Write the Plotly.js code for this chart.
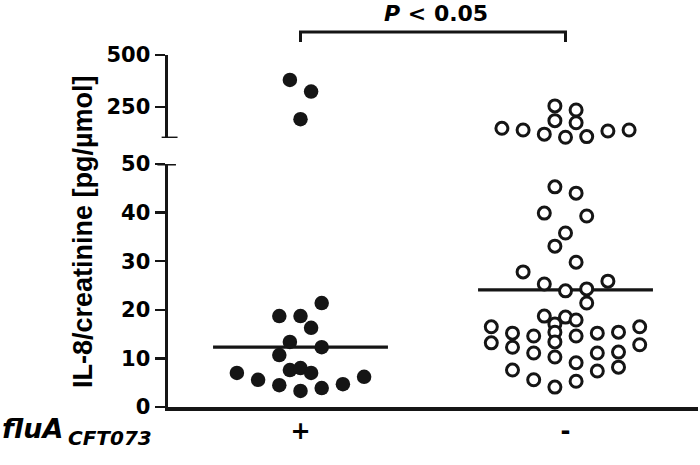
<!DOCTYPE html>
<html>
<head>
<meta charset="utf-8">
<script src="https://cdn.plot.ly/plotly-3.0.1.min.js"></script>
<style>html,body{margin:0;padding:0;background:#fff;}#chart{width:700px;height:465px;}</style>
</head>
<body>
<div id="chart"></div>
<script>
// ---- data ----
const categories = ['+', '-'];
const groupLabel = 'fluA';
const groupSub = 'CFT073';
const yTitle = 'IL-8/creatinine [pg/µmol]';
const pText = '<i>P</i> &lt; 0.05';

// fluA+ (filled) values and their horizontal jitter slot
const plusValues = [21.4, 18.7, 18.7, 16.3, 13.4, 12.3, 10.7, 7.0, 7.6, 8.0, 7.0, 5.6, 4.5, 3.3, 3.9, 4.7, 6.2, 380, 324, 191];
const plusJitter = [2, -2, 0, 1, -1, 2, -2, -6, -1, 0, 1, -4, -2, 0, 2, 4, 6, -1, 1, 0];

// fluA- (open) values and their horizontal jitter slot
const minusValues = [45.3, 44.0, 39.9, 39.3, 35.8, 33.1, 29.8, 27.8, 25.3, 25.9, 23.9, 24.3, 21.4, 18.7, 18.5, 17.9, 17.1,
  16.5, 13.2, 15.2, 12.3, 14.6, 11.1, 15.4, 13.4, 10.3, 14.6, 9.1, 5.3, 15.2, 11.1, 7.4, 15.4, 11.3, 8.2, 16.5, 12.8, 7.6, 5.6, 4.1,
  147, 139, 119, 255, 184, 235, 174, 104, 107, 134, 139];
const minusJitter = [-1, 1, -2, 2, 0, -1, 1, -4, -2, 4, 0, 2, 2, -2, 0, 1, -1,
  -7, -7, -5, -5, -3, -3, -1, -1, -1, 1, 1, 1, 3, 3, 3, 5, 5, 5, 7, 7, -5, -3, -1,
  -6, -4, -2, -1, -1, 1, 1, 0, 2, 4, 6];

const centerLines = [12.3, 24.1];

const lowerTicks = [0, 10, 20, 30, 40, 50];
const upperTicks = [250, 500];
const lowerRange = [0, 50];
const upperRange = [100, 500];

// ---- styles ----
const INK = '#151515';
const slotWidth = 0.04;   // x units per jitter slot
const lineHalf = 0.33;
const tickFont = {family: 'DejaVu Sans', size: 21, color: '#000', weight: 'bold'};

function split(vals, jit, center) {
  const lo = {x: [], y: []}, hi = {x: [], y: []};
  vals.forEach((v, i) => {
    const t = v > lowerRange[1] ? hi : lo;
    t.x.push(center + jit[i] * slotWidth);
    t.y.push(v);
  });
  return [lo, hi];
}

const [pLo, pHi] = split(plusValues, plusJitter, 1);
const [mLo, mHi] = split(minusValues, minusJitter, 2);

const filledMarker = {symbol: 'circle', size: 14.5, color: INK, line: {width: 0}};
const openMarker = {symbol: 'circle', size: 12, color: '#fff', line: {width: 3, color: INK}};

const lineX = [], lineY = [];
centerLines.forEach((v, i) => { lineX.push(i + 1 - lineHalf, i + 1 + lineHalf, null); lineY.push(v, v, null); });

const traces = [
  {x: lineX, y: lineY, yaxis: 'y', mode: 'lines', line: {color: INK, width: 3.2}, hoverinfo: 'skip', cliponaxis: false},
  {x: pLo.x, y: pLo.y, yaxis: 'y', mode: 'markers', marker: filledMarker, cliponaxis: false},
  {x: pHi.x, y: pHi.y, yaxis: 'y2', mode: 'markers', marker: filledMarker, cliponaxis: false},
  {x: mLo.x, y: mLo.y, yaxis: 'y', mode: 'markers', marker: openMarker, cliponaxis: false},
  {x: mHi.x, y: mHi.y, yaxis: 'y2', mode: 'markers', marker: openMarker, cliponaxis: false}
];

const layout = {
  width: 700, height: 465, autosize: false,
  margin: {l: 168, r: 2, t: 55, b: 58},
  paper_bgcolor: '#fff', plot_bgcolor: '#fff',
  showlegend: false,
  xaxis: {
    range: [0.5, 2.5], tickvals: [1, 2], ticktext: categories,
    showgrid: false, zeroline: false, showline: true, linewidth: 3.5, linecolor: INK,
    ticks: '', tickfont: {family: 'DejaVu Sans', size: 24, color: '#000', weight: 'bold'},
    anchor: 'y', fixedrange: true
  },
  yaxis: {
    domain: [0, 0.6903], range: lowerRange, tickvals: lowerTicks,
    showgrid: false, zeroline: false, showline: true, linewidth: 3.5, linecolor: INK,
    ticks: 'outside', ticklen: 10, tickwidth: 2.5, tickcolor: INK,
    tickfont: tickFont, anchor: 'x'
  },
  yaxis2: {
    domain: [0.764, 1], range: upperRange, tickvals: upperTicks,
    showgrid: false, zeroline: false, showline: true, linewidth: 3.5, linecolor: INK,
    ticks: 'outside', ticklen: 10, tickwidth: 2.5, tickcolor: INK,
    tickfont: tickFont, anchor: 'x'
  },
  shapes: [
    {type: 'line', xref: 'paper', yref: 'y', x0: -0.02, x1: 0.015, y0: lowerRange[1], y1: lowerRange[1], line: {color: INK, width: 3}},
    {type: 'line', xref: 'paper', yref: 'y2', x0: -0.012, x1: 0.018, y0: upperRange[0], y1: upperRange[0], line: {color: INK, width: 3}},
    {type: 'path', xref: 'x', yref: 'paper', path: 'M 1 1.037 L 1 1.0653 L 2 1.0653 L 2 1.037', line: {color: INK, width: 3}}
  ],
  annotations: [
    {xref: 'paper', yref: 'paper', x: 0.506, y: 1.119, text: pText, showarrow: false,
     font: {family: 'DejaVu Sans', size: 22, color: '#000', weight: 'bold'}, xanchor: 'center', yanchor: 'middle'},
    {xref: 'paper', yref: 'paper', x: (83 - 168) / 530, y: 0.497, text: yTitle, textangle: -90, showarrow: false,
     font: {family: 'Liberation Sans', size: 27, color: '#000', weight: 'bold'}, xanchor: 'center', yanchor: 'middle'},
    {xref: 'paper', yref: 'paper', x: -168 / 530, y: -0.012, text: '<b><i>' + groupLabel + '</i></b>', showarrow: false,
     font: {family: 'DejaVu Sans', size: 27, color: '#000'}, xanchor: 'left', yanchor: 'top'},
    {xref: 'paper', yref: 'paper', x: -102 / 530, y: -0.047, text: '<b><i>' + groupSub + '</i></b>', showarrow: false,
     font: {family: 'DejaVu Sans', size: 20, color: '#000'}, xanchor: 'left', yanchor: 'top'}
  ]
};

Plotly.newPlot('chart', traces, layout, {staticPlot: true});
</script>
</body>
</html>
